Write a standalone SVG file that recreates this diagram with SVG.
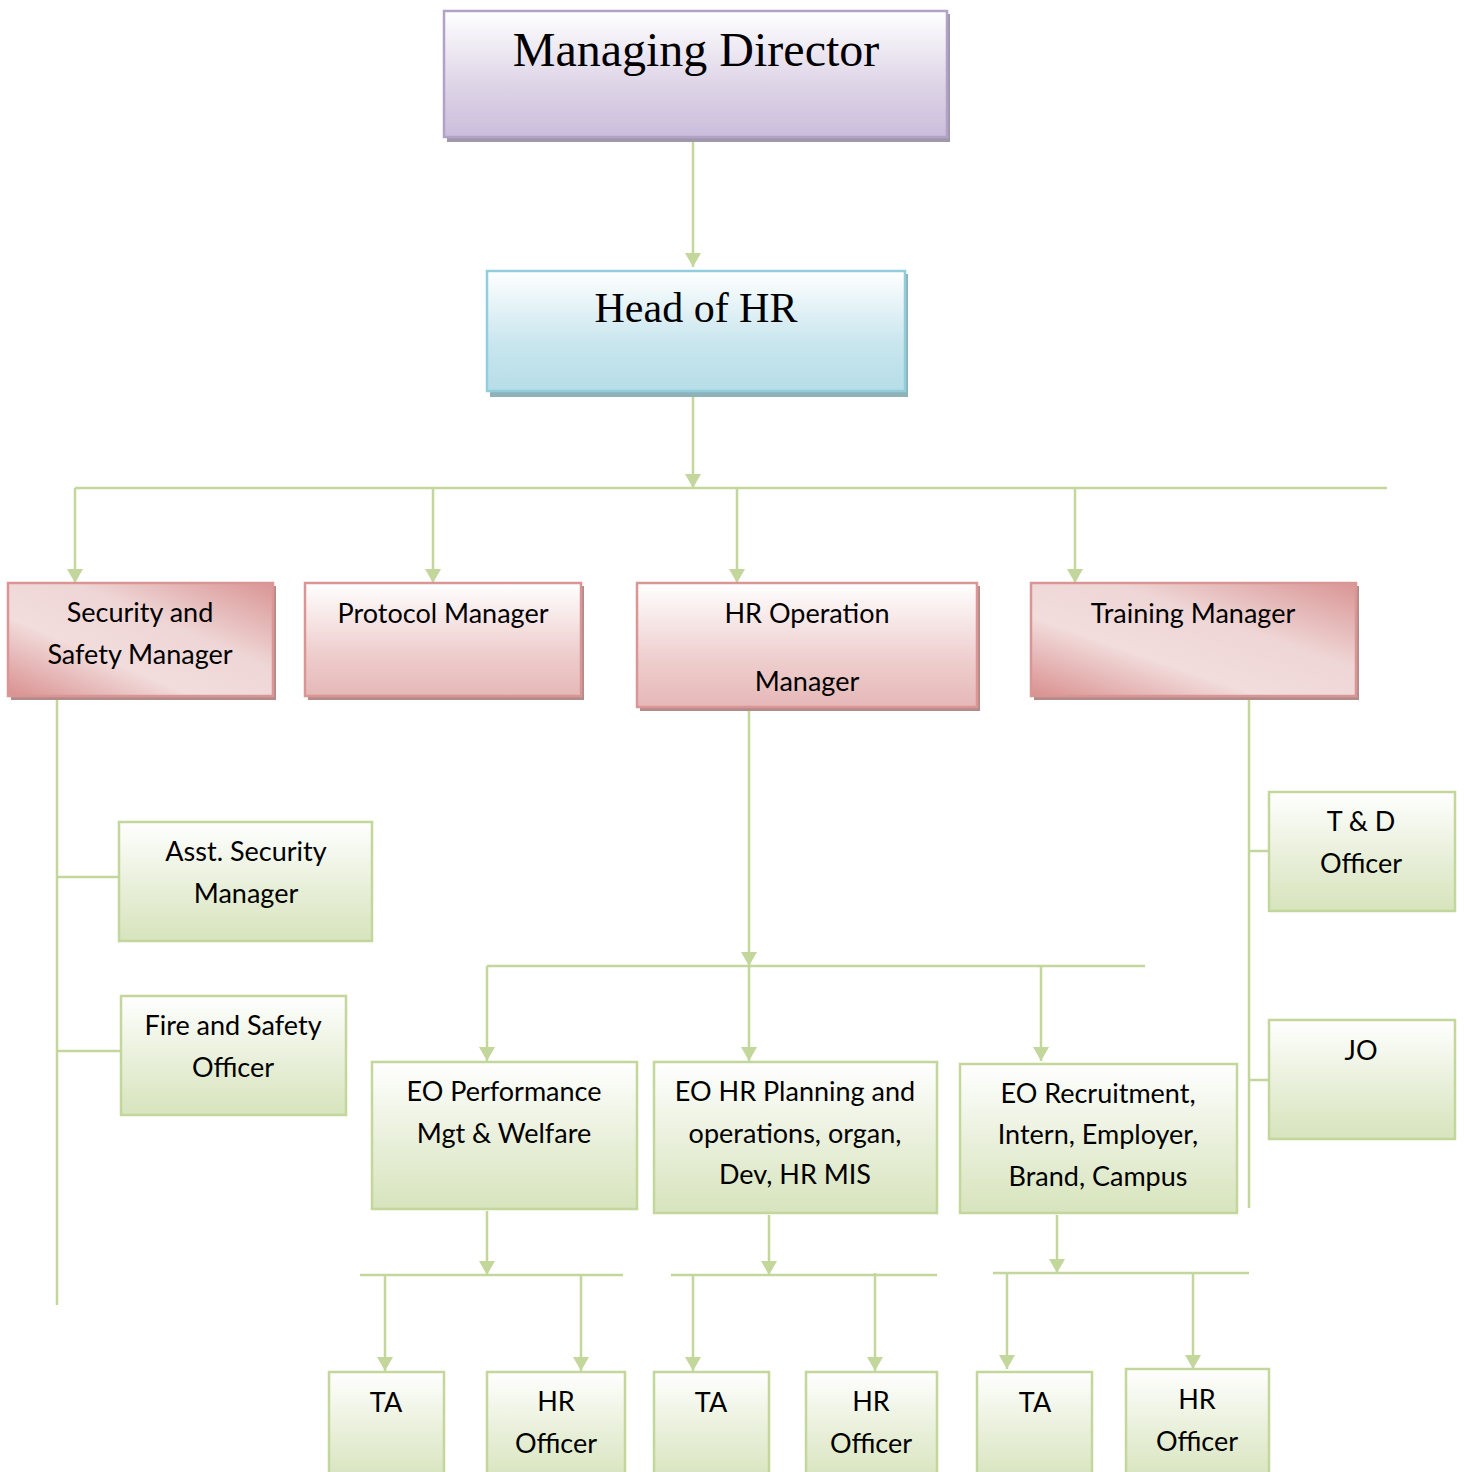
<svg xmlns="http://www.w3.org/2000/svg" width="1464" height="1472" viewBox="0 0 1464 1472">
<defs>
<linearGradient id="gPurple" x1="0" y1="0" x2="0" y2="1"><stop offset="0" stop-color="#ffffff"/><stop offset="0.6" stop-color="#ddd3e6"/><stop offset="1" stop-color="#cbbddb"/></linearGradient>
<linearGradient id="gBlue" x1="0" y1="0" x2="0" y2="1"><stop offset="0" stop-color="#ffffff"/><stop offset="0.6" stop-color="#c9e6ee"/><stop offset="1" stop-color="#b6dde8"/></linearGradient>
<linearGradient id="gRedV" x1="0" y1="0" x2="0" y2="1"><stop offset="0" stop-color="#ffffff"/><stop offset="0.6" stop-color="#efcfcf"/><stop offset="1" stop-color="#e5b8b7"/></linearGradient>
<linearGradient id="gRedD" x1="0" y1="1" x2="1" y2="0"><stop offset="0" stop-color="#d9908f"/><stop offset="0.35" stop-color="#f2dcdc"/><stop offset="0.62" stop-color="#efd6d6"/><stop offset="1" stop-color="#d99594"/></linearGradient>
<linearGradient id="gGreen" x1="0" y1="0" x2="0" y2="1"><stop offset="0" stop-color="#ffffff"/><stop offset="0.55" stop-color="#e8efd9"/><stop offset="1" stop-color="#d7e4bd"/></linearGradient>
<marker id="arr" viewBox="0 0 10 10" refX="10" refY="5" markerWidth="14" markerHeight="16" preserveAspectRatio="none" markerUnits="userSpaceOnUse" orient="auto"><path d="M0,0 L10,5 L0,10 z" fill="#c3d69b"/></marker>
</defs>
<style>
.ln{stroke:#c3d69b;stroke-width:2.5;fill:none}
.ar{marker-end:url(#arr)}
.green{fill:url(#gGreen);stroke:#c3d69b;stroke-width:2.5}
.redv{fill:url(#gRedV);stroke:#d99694;stroke-width:2.5}
.redd{fill:url(#gRedD);stroke:#d99694;stroke-width:2.5}
.rsh{fill:#b38b8b}
.t{font-family:Lato,"Liberation Sans",sans-serif;font-size:27px;fill:#000;text-anchor:middle}
.s{font-family:"Liberation Serif","Times New Roman",serif;fill:#000;text-anchor:middle}
</style>
<rect width="1464" height="1472" fill="#ffffff"/>

<g id="connectors">
<line class="ln ar" x1="693" y1="139" x2="693" y2="267"/>
<line class="ln ar" x1="693" y1="393" x2="693" y2="488"/>
<line class="ln" x1="75" y1="488" x2="1387" y2="488"/>
<line class="ln ar" x1="75" y1="488" x2="75" y2="583"/>
<line class="ln ar" x1="433" y1="488" x2="433" y2="583"/>
<line class="ln ar" x1="737" y1="488" x2="737" y2="583"/>
<line class="ln ar" x1="1075" y1="488" x2="1075" y2="583"/>
<line class="ln" x1="57" y1="698" x2="57" y2="1305"/>
<line class="ln" x1="57" y1="877" x2="119" y2="877"/>
<line class="ln" x1="57" y1="1051" x2="121" y2="1051"/>
<line class="ln ar" x1="749" y1="708" x2="749" y2="966"/>
<line class="ln" x1="487" y1="966" x2="1145" y2="966"/>
<line class="ln ar" x1="487" y1="966" x2="487" y2="1061"/>
<line class="ln ar" x1="749" y1="966" x2="749" y2="1061"/>
<line class="ln ar" x1="1041" y1="966" x2="1041" y2="1061"/>
<line class="ln" x1="1249" y1="698" x2="1249" y2="1208"/>
<line class="ln" x1="1249" y1="851" x2="1269" y2="851"/>
<line class="ln" x1="1249" y1="1080" x2="1269" y2="1080"/>
<line class="ln ar" x1="487" y1="1211" x2="487" y2="1275"/>
<line class="ln" x1="360" y1="1275" x2="623" y2="1275"/>
<line class="ln ar" x1="385" y1="1275" x2="385" y2="1371"/>
<line class="ln ar" x1="581" y1="1275" x2="581" y2="1371"/>
<line class="ln ar" x1="769" y1="1215" x2="769" y2="1275"/>
<line class="ln" x1="671" y1="1275" x2="937" y2="1275"/>
<line class="ln ar" x1="693" y1="1275" x2="693" y2="1371"/>
<line class="ln ar" x1="875" y1="1273" x2="875" y2="1371"/>
<line class="ln ar" x1="1057" y1="1215" x2="1057" y2="1273"/>
<line class="ln" x1="993" y1="1273" x2="1249" y2="1273"/>
<line class="ln ar" x1="1007" y1="1273" x2="1007" y2="1369"/>
<line class="ln ar" x1="1193" y1="1273" x2="1193" y2="1369"/>
</g>

<g id="managing-director">
<rect x="447" y="14" width="503" height="128" fill="#9f97aa"/>
<rect x="444" y="11" width="503" height="126" fill="url(#gPurple)" stroke="#b3a2c7" stroke-width="2.5"/>
<text class="s" x="696" y="66" font-size="48">Managing Director</text>
</g>

<g id="head-of-hr">
<rect x="490" y="274" width="418" height="123" fill="#8fb1ba"/>
<rect x="487" y="271" width="418" height="120" fill="url(#gBlue)" stroke="#92cddc" stroke-width="2.5"/>
<text class="s" x="696" y="322" font-size="42">Head of HR</text>
</g>

<g id="security-safety-manager">
<rect class="rsh" x="11" y="586" width="265" height="114"/>
<rect class="redd" x="8" y="583" width="265" height="113"/>
<text class="t" x="140" y="622">Security and</text>
<text class="t" x="140" y="664">Safety Manager</text>
</g>

<g id="protocol-manager">
<rect class="rsh" x="308" y="586" width="276" height="114"/>
<rect class="redv" x="305" y="583" width="276" height="113"/>
<text class="t" x="443" y="623">Protocol Manager</text>
</g>

<g id="hr-operation-manager">
<rect class="rsh" x="640" y="586" width="340" height="125"/>
<rect class="redv" x="637" y="583" width="340" height="124"/>
<text class="t" x="807" y="623">HR Operation</text>
<text class="t" x="807" y="691">Manager</text>
</g>

<g id="training-manager">
<rect class="rsh" x="1034" y="586" width="325" height="114"/>
<rect class="redd" x="1031" y="583" width="325" height="113"/>
<text class="t" x="1193" y="623">Training Manager</text>
</g>

<g id="asst-security-manager">
<rect class="green" x="119" y="822" width="253" height="119"/>
<text class="t" x="246" y="861">Asst. Security</text>
<text class="t" x="246" y="903">Manager</text>
</g>

<g id="fire-safety-officer">
<rect class="green" x="121" y="996" width="225" height="119"/>
<text class="t" x="233" y="1035">Fire and Safety</text>
<text class="t" x="233" y="1077">Officer</text>
</g>

<g id="td-officer">
<rect class="green" x="1269" y="792" width="186" height="119"/>
<text class="t" x="1361" y="831">T &amp; D</text>
<text class="t" x="1361" y="873">Officer</text>
</g>

<g id="jo">
<rect class="green" x="1269" y="1020" width="186" height="119"/>
<text class="t" x="1361" y="1060">JO</text>
</g>

<g id="eo-performance">
<rect class="green" x="372" y="1062" width="265" height="147"/>
<text class="t" x="504" y="1101">EO Performance</text>
<text class="t" x="504" y="1143">Mgt &amp; Welfare</text>
</g>

<g id="eo-hr-planning">
<rect class="green" x="654" y="1062" width="283" height="151"/>
<text class="t" x="795" y="1101">EO HR Planning and</text>
<text class="t" x="795" y="1143">operations, organ,</text>
<text class="t" x="795" y="1184">Dev, HR MIS</text>
</g>

<g id="eo-recruitment">
<rect class="green" x="960" y="1064" width="277" height="149"/>
<text class="t" x="1098" y="1103">EO Recruitment,</text>
<text class="t" x="1098" y="1144">Intern, Employer,</text>
<text class="t" x="1098" y="1186">Brand, Campus</text>
</g>

<g id="ta-1">
<rect class="green" x="329" y="1372" width="115" height="110"/>
<text class="t" x="386" y="1412">TA</text>
</g>
<g id="hr-officer-1">
<rect class="green" x="487" y="1372" width="138" height="110"/>
<text class="t" x="556" y="1411">HR</text>
<text class="t" x="556" y="1453">Officer</text>
</g>
<g id="ta-2">
<rect class="green" x="654" y="1372" width="115" height="110"/>
<text class="t" x="711" y="1412">TA</text>
</g>
<g id="hr-officer-2">
<rect class="green" x="806" y="1372" width="131" height="110"/>
<text class="t" x="871" y="1411">HR</text>
<text class="t" x="871" y="1453">Officer</text>
</g>
<g id="ta-3">
<rect class="green" x="977" y="1372" width="115" height="110"/>
<text class="t" x="1035" y="1412">TA</text>
</g>
<g id="hr-officer-3">
<rect class="green" x="1126" y="1369" width="143" height="113"/>
<text class="t" x="1197" y="1409">HR</text>
<text class="t" x="1197" y="1451">Officer</text>
</g>
</svg>
